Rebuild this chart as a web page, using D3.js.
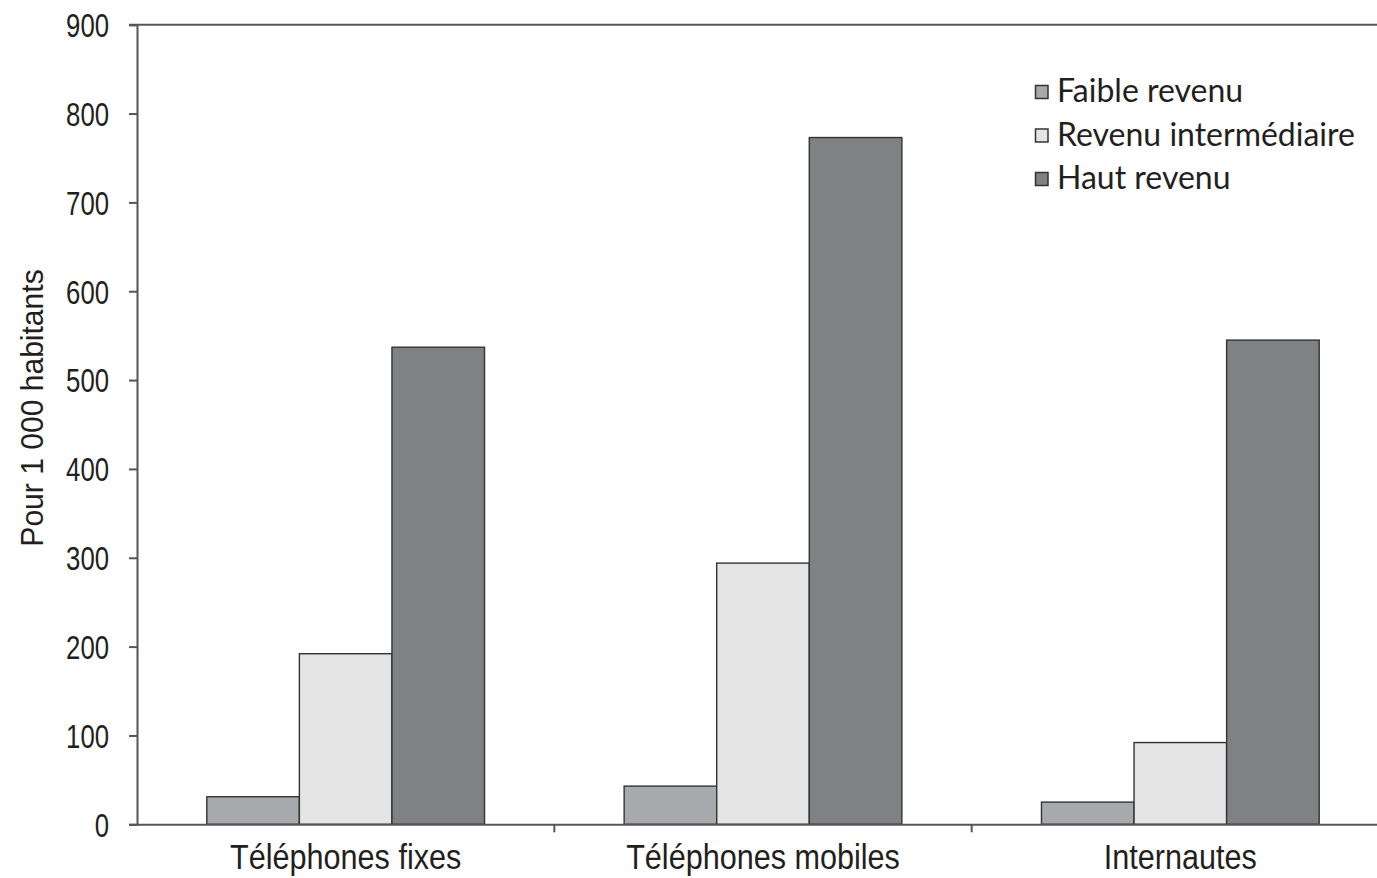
<!DOCTYPE html>
<html><head><meta charset="utf-8">
<script src="https://cdn.jsdelivr.net/npm/d3@7"></script>
<style>
html,body{margin:0;padding:0;background:#fff;overflow:hidden;}
svg{display:block;}
</style></head>
<body>
<script>
const categories = ["Téléphones fixes", "Téléphones mobiles", "Internautes"];
const seriesNames = ["Faible revenu", "Revenu intermédiaire", "Haut revenu"];
const faible = [31, 43, 25];
const intermediaire = [192, 294, 92];
const haut = [537, 773, 545];
const yTicks = [0, 100, 200, 300, 400, 500, 600, 700, 800, 900];
const yLabel = "Pour 1 000 habitants";

const seriesValues = [faible, intermediaire, haut];
const colors = ["#a7a9ac", "#e3e4e3", "#808184"];

const W = 1377, H = 878;
const m = {left: 137, right: 1389, top: 24.7, bottom: 824.3};
const svg = d3.select("body").append("svg").attr("width", W).attr("height", H);

const sansFont = "'Liberation Sans', Arial, sans-serif";
const textCol = "#231f20";
const axisCol = "#555";

const y = d3.scaleLinear().domain([0, 900]).range([m.bottom, m.top]);
const x0 = d3.scaleBand().domain(categories).range([m.left, m.right]).paddingInner(0).paddingOuter(0);
const bw = x0.bandwidth();
const x1 = d3.scaleBand().domain(seriesNames).range([0, bw]).paddingInner(0).paddingOuter(0.754);

// bars
categories.forEach((c, ci) => {
  seriesNames.forEach((s, si) => {
    const v = seriesValues[si][ci];
    svg.append("rect")
      .attr("x", x0(c) + x1(s))
      .attr("y", y(v))
      .attr("width", x1.bandwidth())
      .attr("height", y(0) - y(v))
      .attr("fill", colors[si])
      .attr("stroke", "#333")
      .attr("stroke-width", 1.4);
  });
});

// top frame line
svg.append("line").attr("x1", m.left - 8).attr("x2", m.right).attr("y1", y(900)).attr("y2", y(900))
  .attr("stroke", axisCol).attr("stroke-width", 2);

// y axis
const yAxis = svg.append("g").attr("transform", `translate(${m.left},0)`)
  .call(d3.axisLeft(y).tickValues(yTicks).tickSize(8).tickFormat(d3.format("d")));
yAxis.select(".domain").attr("stroke", axisCol).attr("stroke-width", 2);
yAxis.selectAll(".tick line").attr("stroke", axisCol).attr("stroke-width", 2);
yAxis.selectAll(".tick text")
  .attr("x", 0).attr("dy", "0.36em")
  .attr("transform", "translate(-28,0) scale(0.78,1)")
  .attr("font-family", sansFont).attr("font-size", 33).attr("fill", textCol);

// x axis
const xAxis = svg.append("g").attr("transform", `translate(0,${m.bottom})`)
  .call(d3.axisBottom(x0).tickSize(0));
xAxis.select(".domain").attr("stroke", axisCol).attr("stroke-width", 2);
xAxis.selectAll(".tick text")
  .attr("y", 0).attr("dy", 0)
  .attr("transform", "translate(0,45) scale(0.85,1)")
  .attr("font-family", sansFont).attr("font-size", 36).attr("fill", textCol);
// category boundary ticks
svg.selectAll(".bound").data(categories.slice(1)).enter().append("line")
  .attr("x1", d => x0(d)).attr("x2", d => x0(d))
  .attr("y1", m.bottom).attr("y2", m.bottom + 8)
  .attr("stroke", axisCol).attr("stroke-width", 2);

// y label
svg.append("text")
  .attr("transform", `translate(43,408) rotate(-90) scale(0.97,1)`)
  .attr("text-anchor", "middle")
  .attr("font-family", sansFont).attr("font-size", 31).attr("fill", textCol)
  .text(yLabel);

// legend
const leg = svg.append("g").attr("transform", "translate(1035,85)");
seriesNames.forEach((s, i) => {
  const g = leg.append("g").attr("transform", `translate(0,${i * 43.5})`);
  g.append("rect").attr("x", 0.5).attr("y", 0.5).attr("width", 12.5).attr("height", 13)
    .attr("fill", colors[i]).attr("stroke", "#333").attr("stroke-width", 1.5);
  g.append("text").attr("x", 22).attr("y", 17).attr("font-family", "Lato, sans-serif")
    .attr("font-size", 32).attr("fill", textCol).text(s);
});
</script>
</body></html>
